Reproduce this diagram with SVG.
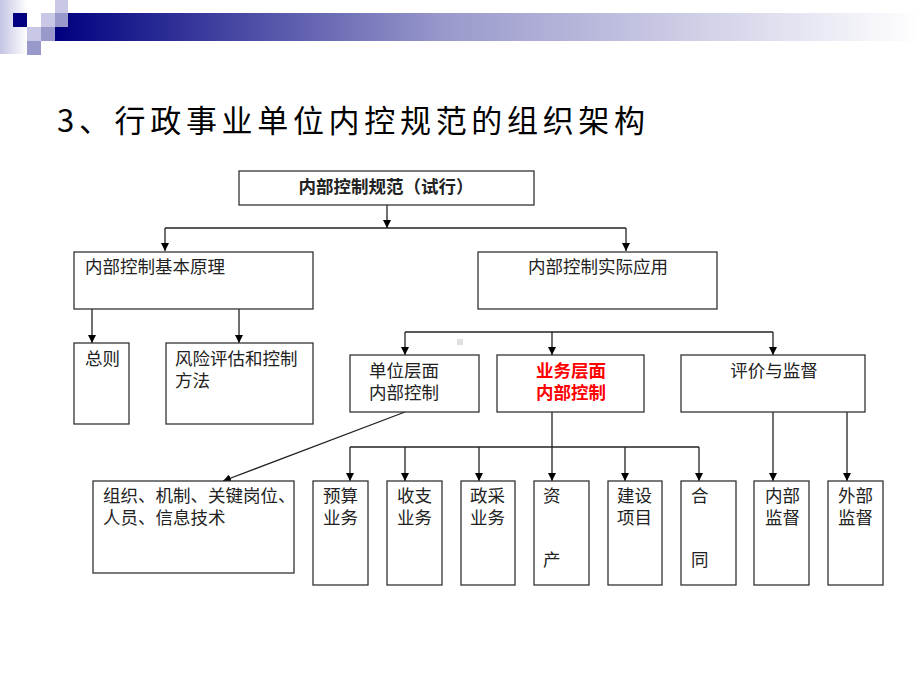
<svg xmlns="http://www.w3.org/2000/svg" width="920" height="690" viewBox="0 0 920 690">
<defs>
<linearGradient id="bar" x1="0" y1="0" x2="1" y2="0">
<stop offset="0" stop-color="#000080"/>
<stop offset="0.45" stop-color="#9999cc"/>
<stop offset="1" stop-color="#ffffff"/>
</linearGradient>
<linearGradient id="strip" x1="0" y1="0" x2="1" y2="0">
<stop offset="0" stop-color="#c4c4e4"/>
<stop offset="1" stop-color="#ffffff"/>
</linearGradient>
<marker id="arr" viewBox="0 0 10 10" refX="10" refY="5" markerWidth="8" markerHeight="8" markerUnits="userSpaceOnUse" orient="auto">
<path d="M0,0 L10,5 L0,10 Z" fill="#000"/>
</marker>
<style>
.box{fill:#fff;stroke:#333;stroke-width:1.3}
.t{font-family:"Noto Sans CJK SC","Liberation Sans",sans-serif;font-size:17.5px;fill:#222}
.b{font-weight:bold}
.red{fill:#ff0000;font-weight:bold}
.c{text-anchor:middle}
.ln{fill:none;stroke:#222;stroke-width:1.3}
.a{fill:none;stroke:#222;stroke-width:1.3;marker-end:url(#arr)}
</style>
</defs>
<rect width="920" height="690" fill="#fff"/>
<g id="decor">
<rect x="0" y="0" width="27" height="54" fill="url(#strip)"/>
<rect x="55" y="13" width="865" height="28" fill="url(#bar)"/>
<rect x="13" y="13" width="14" height="14" fill="#000080"/>
<rect x="55" y="0" width="13" height="13" fill="#c8c8e6"/>
<rect x="41" y="13" width="14" height="14" fill="#c8c8e6"/>
<rect x="55" y="13" width="13" height="14" fill="#9999cc"/>
<rect x="27" y="27" width="14" height="14" fill="#c8c8e6"/>
<rect x="41" y="27" width="14" height="14" fill="#9999cc"/>
<rect x="27" y="41" width="14" height="14" fill="#9999cc"/>
<rect x="457" y="339" width="6" height="6" fill="#e0e0e0"/>
</g>
<text id="title" x="57" y="132" font-family="Noto Sans CJK SC, Liberation Sans, sans-serif" font-size="31" fill="#000" textLength="588" lengthAdjust="spacing">3、行政事业单位内控规范的组织架构</text>
<g id="connectors">
<line class="a" x1="387" y1="205" x2="387" y2="228"/>
<line class="ln" x1="165" y1="228" x2="626" y2="228"/>
<line class="a" x1="165" y1="228" x2="165" y2="251"/>
<line class="a" x1="626" y1="228" x2="626" y2="251"/>
<line class="a" x1="92" y1="309" x2="92" y2="343"/>
<line class="a" x1="239" y1="309" x2="239" y2="343"/>
<line class="ln" x1="405" y1="332" x2="773" y2="332"/>
<line class="a" x1="405" y1="332" x2="405" y2="355"/>
<line class="a" x1="552" y1="332" x2="552" y2="355"/>
<line class="a" x1="773" y1="332" x2="773" y2="355"/>
<line class="a" x1="405" y1="412" x2="223" y2="481"/>
<line class="ln" x1="552" y1="412" x2="552" y2="447"/>
<line class="ln" x1="350" y1="447" x2="699" y2="447"/>
<line class="a" x1="350" y1="447" x2="350" y2="481"/>
<line class="a" x1="405" y1="447" x2="405" y2="481"/>
<line class="a" x1="479" y1="447" x2="479" y2="481"/>
<line class="a" x1="552" y1="447" x2="552" y2="481"/>
<line class="a" x1="625" y1="447" x2="625" y2="481"/>
<line class="a" x1="699" y1="447" x2="699" y2="481"/>
<line class="a" x1="773" y1="412" x2="773" y2="481"/>
<line class="a" x1="847" y1="412" x2="847" y2="481"/>
</g>
<g id="n-root"><rect class="box" x="239" y="171" width="295" height="34"/><text class="t b c" x="386" y="193">内部控制规范（试行）</text></g>
<g id="n-principle"><rect class="box" x="74" y="252" width="239" height="57"/><text class="t" x="85" y="273">内部控制基本原理</text></g>
<g id="n-apply"><rect class="box" x="478" y="252" width="239" height="57"/><text class="t c" x="598" y="273">内部控制实际应用</text></g>
<g id="n-general"><rect class="box" x="74" y="343" width="55" height="81"/><text class="t" x="85" y="365">总则</text></g>
<g id="n-risk"><rect class="box" x="166" y="343" width="147" height="81"/><text class="t" x="175" y="365">风险评估和控制</text><text class="t" x="175" y="387">方法</text></g>
<g id="n-unit"><rect class="box" x="350" y="355" width="129" height="57"/><text class="t" x="369" y="377">单位层面</text><text class="t" x="369" y="399">内部控制</text></g>
<g id="n-business"><rect class="box" x="497" y="355" width="147" height="57"/><text class="t red c" x="571" y="377">业务层面</text><text class="t red c" x="571" y="399">内部控制</text></g>
<g id="n-eval"><rect class="box" x="681" y="355" width="184" height="57"/><text class="t c" x="774" y="377">评价与监督</text></g>
<g id="n-org"><rect class="box" x="93" y="481" width="201" height="92"/><text class="t" x="103" y="502">组织、机制、关键岗位、</text><text class="t" x="103" y="524">人员、信息技术</text></g>
<g id="n-budget"><rect class="box" x="313" y="481" width="55" height="104"/><text class="t" x="323" y="502">预算</text><text class="t" x="323" y="524">业务</text></g>
<g id="n-income"><rect class="box" x="387" y="481" width="55" height="104"/><text class="t" x="397" y="502">收支</text><text class="t" x="397" y="524">业务</text></g>
<g id="n-procure"><rect class="box" x="461" y="481" width="54" height="104"/><text class="t" x="470" y="502">政采</text><text class="t" x="470" y="524">业务</text></g>
<g id="n-asset"><rect class="box" x="534" y="481" width="55" height="104"/><text class="t" x="543" y="502">资</text><text class="t" x="543" y="566">产</text></g>
<g id="n-build"><rect class="box" x="608" y="481" width="54" height="104"/><text class="t" x="617" y="502">建设</text><text class="t" x="617" y="524">项目</text></g>
<g id="n-contract"><rect class="box" x="681" y="481" width="55" height="104"/><text class="t" x="691" y="502">合</text><text class="t" x="691" y="566">同</text></g>
<g id="n-internal"><rect class="box" x="754" y="481" width="55" height="104"/><text class="t" x="765" y="502">内部</text><text class="t" x="765" y="524">监督</text></g>
<g id="n-external"><rect class="box" x="828" y="481" width="55" height="104"/><text class="t" x="838" y="502">外部</text><text class="t" x="838" y="524">监督</text></g>
</svg>
